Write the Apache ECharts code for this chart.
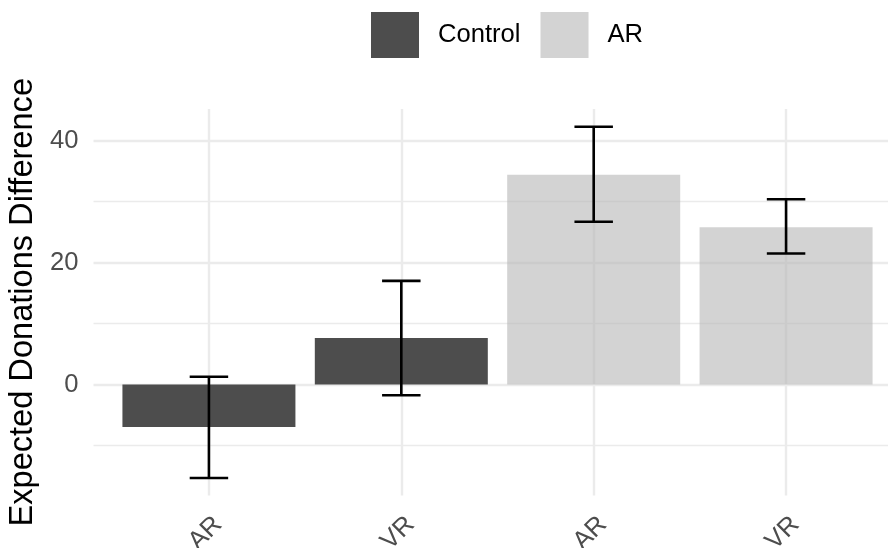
<!DOCTYPE html>
<html>
<head>
<meta charset="utf-8">
<script src="https://cdn.jsdelivr.net/npm/echarts@6/dist/echarts.min.js"></script>
<style>html,body{margin:0;padding:0;background:#fff}#c{width:888px;height:548px}</style>
</head>
<body>
<div id="c"></div>
<script>
// ---- data ----
var categories = ['AR', 'VR', 'AR', 'VR'];
var groups = ['Control', 'Control', 'AR', 'AR'];
var groupNames = ['Control', 'AR'];
var means = [-6.95, 7.62, 34.4, 25.8];
var lower = [-15.33, -1.76, 26.7, 21.5];
var upper = [1.27, 17.0, 42.3, 30.4];
var yMajorTicks = [0, 20, 40];
var yMinorTicks = [-10, 10, 30];
var yTitle = 'Expected Donations Difference';

// ---- styles ----
var FONT = 'Liberation Sans, Arial, Helvetica, sans-serif';
var groupColors = { 'Control': 'rgba(77,77,77,1)', 'AR': 'rgba(182,182,182,0.6)' };
var gridColor = '#ebebeb';

function seriesFor(g) {
  var d = [];
  for (var i = 0; i < means.length; i++) if (groups[i] === g) d.push([i, means[i]]);
  return d;
}

var gridLines = [];
yMajorTicks.forEach(function (v) { gridLines.push({ yAxis: v, lineStyle: { width: 2.4 } }); });
yMinorTicks.forEach(function (v) { gridLines.push({ yAxis: v, lineStyle: { width: 1.3 } }); });
categories.forEach(function (c, i) { gridLines.push({ xAxis: i, lineStyle: { width: 2.4 } }); });

var errData = [];
for (var i = 0; i < means.length; i++) errData.push([i, lower[i], upper[i]]);

var series = [{
  type: 'line', name: '_grid', data: [], z: 1, silent: true,
  markLine: {
    z: 1, zlevel: 0,
    silent: true, symbol: ['none', 'none'], animation: false,
    label: { show: false },
    lineStyle: { color: gridColor, type: 'solid' },
    emphasis: { disabled: true },
    data: gridLines
  }
}];
groupNames.forEach(function (g) {
  series.push({
    type: 'bar', name: g, data: seriesFor(g), barWidth: 173, barGap: '-100%', z: 3,
    itemStyle: { color: groupColors[g] }
  });
});
series.push({
  type: 'custom', name: '_err', z: 6, silent: true, data: errData,
  renderItem: function (params, api) {
    var x = api.value(0);
    var lo = api.coord([x, api.value(1)]);
    var hi = api.coord([x, api.value(2)]);
    var hw = api.size([0.1, 0])[0];
    var st = { stroke: '#000', lineWidth: 2.6, fill: null };
    return {
      type: 'group', children: [
        { type: 'line', shape: { x1: lo[0], y1: lo[1], x2: hi[0], y2: hi[1] }, style: st },
        { type: 'line', shape: { x1: lo[0] - hw, y1: lo[1], x2: lo[0] + hw, y2: lo[1] }, style: st },
        { type: 'line', shape: { x1: hi[0] - hw, y1: hi[1], x2: hi[0] + hw, y2: hi[1] }, style: st }
      ]
    };
  }
});

var chart = echarts.init(document.getElementById('c'), null, { renderer: 'canvas' });
chart.setOption({
  animation: false,
  backgroundColor: '#fff',
  textStyle: { fontFamily: FONT },
  legend: {
    data: groupNames, left: 371, top: 12, padding: 0, icon: 'rect', itemWidth: 48, itemHeight: 46, itemGap: 20,
    selectedMode: false,
    textStyle: { fontSize: 25.6, color: '#000', fontFamily: FONT, padding: [0, 0, 0, 14] }
  },
  grid: { left: 93.5, right: -13.5, top: 109, bottom: 52.5, containLabel: false, outerBoundsMode: 'none' },
  xAxis: {
    type: 'value', min: -0.6, max: 3.6, minInterval: 1, maxInterval: 1,
    axisLine: { show: false }, axisTick: { show: false }, splitLine: { show: false },
    axisLabel: {
      rotate: 45, margin: 16, verticalAlign: 'top', fontSize: 25.6, color: '#4d4d4d', fontFamily: FONT,
      formatter: function (v) {
        return (Math.abs(v - Math.round(v)) < 1e-9 && v >= 0 && v < categories.length) ? categories[Math.round(v)] : '';
      }
    }
  },
  yAxis: {
    type: 'value', min: -18.2, max: 45.2, minInterval: 10, maxInterval: 10,
    name: yTitle, nameLocation: 'middle', nameGap: 50, nameRotate: 90,
    nameTextStyle: { fontSize: 32.6, color: '#000', fontFamily: FONT },
    axisLine: { show: false }, axisTick: { show: false }, splitLine: { show: false },
    axisLabel: {
      margin: 15, fontSize: 25.6, color: '#4d4d4d', fontFamily: FONT,
      formatter: function (v) { return yMajorTicks.indexOf(v) >= 0 ? String(v) : ''; }
    }
  },
  series: series
});
</script>
</body>
</html>
